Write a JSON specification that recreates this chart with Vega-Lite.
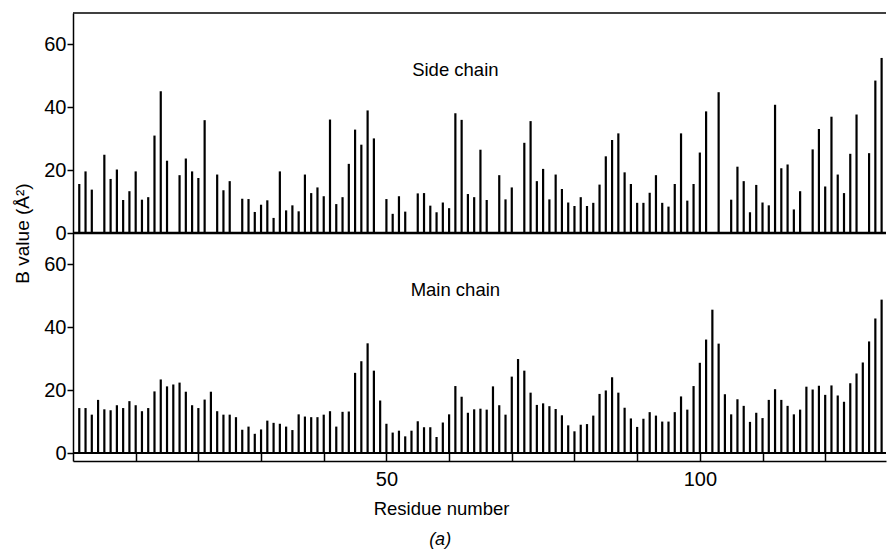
{
  "$schema": "https://vega.github.io/schema/vega-lite/v6.json",
  "background": "white",
  "padding": {"left": 13, "top": 12, "right": 0, "bottom": 4},
  "spacing": 0,
  "bounds": "flush",
  "config": {
    "font": "Liberation Sans",
    "view": {"stroke": null},
    "axis": {"domainColor": "black", "tickColor": "black", "labelColor": "black", "titleColor": "black", "labelFont": "Liberation Sans", "titleFont": "Liberation Sans", "grid": false, "labelFlush": false}
  },
  "title": {"text": "(a)", "orient": "bottom", "fontSize": 18, "fontWeight": "normal", "fontStyle": "italic", "offset": 13, "anchor": "middle", "dx": -10, "color": "black", "font": "Liberation Sans"},
  "datasets": {
    "side": [
      {"residue": 1, "b": 15.6}, {"residue": 2, "b": 19.6}, {"residue": 3, "b": 13.8}, {"residue": 5, "b": 24.9}, {"residue": 6, "b": 17.2}, {"residue": 7, "b": 20.2}, {"residue": 8, "b": 10.5}, {"residue": 9, "b": 13.3}, {"residue": 10, "b": 19.6},
      {"residue": 11, "b": 10.6}, {"residue": 12, "b": 11.4}, {"residue": 13, "b": 31.0}, {"residue": 14, "b": 45.1}, {"residue": 15, "b": 23.0}, {"residue": 17, "b": 18.4}, {"residue": 18, "b": 23.7}, {"residue": 19, "b": 19.6}, {"residue": 20, "b": 17.5},
      {"residue": 21, "b": 35.9}, {"residue": 23, "b": 18.6}, {"residue": 24, "b": 13.6}, {"residue": 25, "b": 16.5}, {"residue": 27, "b": 10.9}, {"residue": 28, "b": 10.8}, {"residue": 29, "b": 6.7}, {"residue": 30, "b": 9.0},
      {"residue": 31, "b": 10.4}, {"residue": 32, "b": 4.8}, {"residue": 33, "b": 19.6}, {"residue": 34, "b": 7.2}, {"residue": 35, "b": 8.8}, {"residue": 36, "b": 6.9}, {"residue": 37, "b": 18.6}, {"residue": 38, "b": 12.7}, {"residue": 39, "b": 14.5}, {"residue": 40, "b": 11.7},
      {"residue": 41, "b": 36.1}, {"residue": 42, "b": 9.2}, {"residue": 43, "b": 11.4}, {"residue": 44, "b": 22.0}, {"residue": 45, "b": 32.9}, {"residue": 46, "b": 28.1}, {"residue": 47, "b": 39.0}, {"residue": 48, "b": 30.1}, {"residue": 50, "b": 10.8},
      {"residue": 51, "b": 6.1}, {"residue": 52, "b": 11.7}, {"residue": 53, "b": 6.8}, {"residue": 55, "b": 12.6}, {"residue": 56, "b": 12.7}, {"residue": 57, "b": 8.7}, {"residue": 58, "b": 6.6}, {"residue": 59, "b": 9.7}, {"residue": 60, "b": 7.9},
      {"residue": 61, "b": 38.1}, {"residue": 62, "b": 36.0}, {"residue": 63, "b": 12.4}, {"residue": 64, "b": 11.4}, {"residue": 65, "b": 26.5}, {"residue": 66, "b": 10.5}, {"residue": 68, "b": 18.4}, {"residue": 69, "b": 10.7}, {"residue": 70, "b": 14.5},
      {"residue": 72, "b": 28.7}, {"residue": 73, "b": 35.6}, {"residue": 74, "b": 16.5}, {"residue": 75, "b": 20.4}, {"residue": 76, "b": 10.7}, {"residue": 77, "b": 18.6}, {"residue": 78, "b": 14.0}, {"residue": 79, "b": 9.7}, {"residue": 80, "b": 8.6},
      {"residue": 81, "b": 11.4}, {"residue": 82, "b": 8.6}, {"residue": 83, "b": 9.6}, {"residue": 84, "b": 15.4}, {"residue": 85, "b": 24.4}, {"residue": 86, "b": 29.6}, {"residue": 87, "b": 31.7}, {"residue": 88, "b": 19.3}, {"residue": 89, "b": 15.6}, {"residue": 90, "b": 9.6},
      {"residue": 91, "b": 9.6}, {"residue": 92, "b": 12.8}, {"residue": 93, "b": 18.4}, {"residue": 94, "b": 9.6}, {"residue": 95, "b": 8.4}, {"residue": 96, "b": 15.6}, {"residue": 97, "b": 31.7}, {"residue": 98, "b": 10.3}, {"residue": 99, "b": 15.6}, {"residue": 100, "b": 25.6},
      {"residue": 101, "b": 38.7}, {"residue": 103, "b": 44.8}, {"residue": 105, "b": 10.6}, {"residue": 106, "b": 21.1}, {"residue": 107, "b": 16.5}, {"residue": 108, "b": 6.6}, {"residue": 109, "b": 15.3}, {"residue": 110, "b": 9.7},
      {"residue": 111, "b": 8.8}, {"residue": 112, "b": 40.8}, {"residue": 113, "b": 20.6}, {"residue": 114, "b": 21.8}, {"residue": 115, "b": 7.5}, {"residue": 116, "b": 13.3}, {"residue": 118, "b": 26.6}, {"residue": 119, "b": 33.1}, {"residue": 120, "b": 14.8},
      {"residue": 121, "b": 37.0}, {"residue": 122, "b": 18.6}, {"residue": 123, "b": 12.7}, {"residue": 124, "b": 25.2}, {"residue": 125, "b": 37.7}, {"residue": 127, "b": 25.4}, {"residue": 128, "b": 48.5}, {"residue": 129, "b": 55.7}
    ],
    "main": [
      {"residue": 1, "b": 14.3}, {"residue": 2, "b": 14.3}, {"residue": 3, "b": 12.2}, {"residue": 4, "b": 16.9}, {"residue": 5, "b": 13.9}, {"residue": 6, "b": 13.6}, {"residue": 7, "b": 15.2}, {"residue": 8, "b": 14.3}, {"residue": 9, "b": 16.5}, {"residue": 10, "b": 15.2},
      {"residue": 11, "b": 13.3}, {"residue": 12, "b": 14.3}, {"residue": 13, "b": 19.6}, {"residue": 14, "b": 23.4}, {"residue": 15, "b": 21.2}, {"residue": 16, "b": 21.8}, {"residue": 17, "b": 22.4}, {"residue": 18, "b": 19.5}, {"residue": 19, "b": 15.2}, {"residue": 20, "b": 14.3},
      {"residue": 21, "b": 17.0}, {"residue": 22, "b": 19.5}, {"residue": 23, "b": 13.3}, {"residue": 24, "b": 12.2}, {"residue": 25, "b": 12.2}, {"residue": 26, "b": 11.4}, {"residue": 27, "b": 7.4}, {"residue": 28, "b": 8.4}, {"residue": 29, "b": 6.1}, {"residue": 30, "b": 7.5},
      {"residue": 31, "b": 10.3}, {"residue": 32, "b": 9.6}, {"residue": 33, "b": 9.3}, {"residue": 34, "b": 8.4}, {"residue": 35, "b": 7.3}, {"residue": 36, "b": 12.3}, {"residue": 37, "b": 11.6}, {"residue": 38, "b": 11.4}, {"residue": 39, "b": 11.4}, {"residue": 40, "b": 12.2},
      {"residue": 41, "b": 13.3}, {"residue": 42, "b": 8.4}, {"residue": 43, "b": 13.1}, {"residue": 44, "b": 13.2}, {"residue": 45, "b": 25.5}, {"residue": 46, "b": 29.2}, {"residue": 47, "b": 34.9}, {"residue": 48, "b": 26.2}, {"residue": 49, "b": 16.7}, {"residue": 50, "b": 9.3},
      {"residue": 51, "b": 6.5}, {"residue": 52, "b": 7.1}, {"residue": 53, "b": 5.3}, {"residue": 54, "b": 7.1}, {"residue": 55, "b": 10.1}, {"residue": 56, "b": 8.2}, {"residue": 57, "b": 8.2}, {"residue": 58, "b": 5.1}, {"residue": 59, "b": 9.7}, {"residue": 60, "b": 12.3},
      {"residue": 61, "b": 21.3}, {"residue": 62, "b": 17.9}, {"residue": 63, "b": 12.8}, {"residue": 64, "b": 13.9}, {"residue": 65, "b": 14.1}, {"residue": 66, "b": 13.8}, {"residue": 67, "b": 21.2}, {"residue": 68, "b": 15.2}, {"residue": 69, "b": 12.2}, {"residue": 70, "b": 24.3},
      {"residue": 71, "b": 29.9}, {"residue": 72, "b": 26.2}, {"residue": 73, "b": 19.2}, {"residue": 74, "b": 15.3}, {"residue": 75, "b": 15.8}, {"residue": 76, "b": 14.9}, {"residue": 77, "b": 14.0}, {"residue": 78, "b": 12.0}, {"residue": 79, "b": 8.8}, {"residue": 80, "b": 6.9},
      {"residue": 81, "b": 9.0}, {"residue": 82, "b": 9.2}, {"residue": 83, "b": 11.9}, {"residue": 84, "b": 18.8}, {"residue": 85, "b": 19.9}, {"residue": 86, "b": 24.1}, {"residue": 87, "b": 19.2}, {"residue": 88, "b": 14.4}, {"residue": 89, "b": 11.0}, {"residue": 90, "b": 8.3},
      {"residue": 91, "b": 10.9}, {"residue": 92, "b": 13.0}, {"residue": 93, "b": 11.9}, {"residue": 94, "b": 10.0}, {"residue": 95, "b": 10.0}, {"residue": 96, "b": 13.0}, {"residue": 97, "b": 18.0}, {"residue": 98, "b": 13.8}, {"residue": 99, "b": 21.3}, {"residue": 100, "b": 28.7},
      {"residue": 101, "b": 36.1}, {"residue": 102, "b": 45.6}, {"residue": 103, "b": 34.8}, {"residue": 104, "b": 18.7}, {"residue": 105, "b": 12.3}, {"residue": 106, "b": 17.1}, {"residue": 107, "b": 15.0}, {"residue": 108, "b": 9.9}, {"residue": 109, "b": 12.8}, {"residue": 110, "b": 11.1},
      {"residue": 111, "b": 16.9}, {"residue": 112, "b": 20.3}, {"residue": 113, "b": 16.9}, {"residue": 114, "b": 15.0}, {"residue": 115, "b": 12.3}, {"residue": 116, "b": 13.8}, {"residue": 117, "b": 21.1}, {"residue": 118, "b": 20.2}, {"residue": 119, "b": 21.4}, {"residue": 120, "b": 18.5},
      {"residue": 121, "b": 21.5}, {"residue": 122, "b": 18.3}, {"residue": 123, "b": 16.3}, {"residue": 124, "b": 22.2}, {"residue": 125, "b": 25.3}, {"residue": 126, "b": 28.8}, {"residue": 127, "b": 35.5}, {"residue": 128, "b": 42.8}, {"residue": 129, "b": 48.8}
    ],
    "one": [{}]
  },
  "vconcat": [
    {
      "width": 813,
      "height": 220,
      "layer": [
        {
          "data": {"name": "side"},
          "mark": {"type": "rule", "strokeWidth": 2.2, "color": "black"},
          "encoding": {
            "x": {"field": "residue", "type": "quantitative", "scale": {"domain": [0, 129.7], "nice": false, "zero": false}, "axis": null},
            "y": {"field": "b", "type": "quantitative", "scale": {"domain": [0, 70], "nice": false},
              "axis": {"values": [0, 10, 20, 30, 40, 50, 60], "labelExpr": "datum.value % 20 == 0 ? datum.label : ''", "tickSize": 6, "tickWidth": 1.5, "domainWidth": 1.5, "labelPadding": 1, "labelFontSize": 20,
                "title": "B value (Å²)", "titleFontSize": 19, "titleFontWeight": "normal", "titleX": -51, "titleY": 220, "titleAlign": "center", "titleAngle": -90, "titleBaseline": "middle"}},
            "y2": {"datum": 0}
          }
        },
        {
          "data": {"name": "one"},
          "mark": {"type": "rule", "strokeWidth": 2.5, "color": "black"},
          "encoding": {"y": {"datum": 0}}
        },
        {
          "data": {"name": "one"},
          "mark": {"type": "rule", "strokeWidth": 1.5, "color": "black"},
          "encoding": {"y": {"datum": 70}}
        },
        {
          "data": {"name": "one"},
          "mark": {"type": "text", "fontSize": 18.5, "color": "black", "font": "Liberation Sans", "align": "center", "baseline": "middle"},
          "encoding": {"x": {"datum": 61}, "y": {"datum": 52}, "text": {"value": "Side chain"}}
        }
      ]
    },
    {
      "width": 813,
      "height": 220,
      "layer": [
        {
          "data": {"name": "main"},
          "mark": {"type": "rule", "strokeWidth": 2.2, "color": "black"},
          "encoding": {
            "x": {"field": "residue", "type": "quantitative", "scale": {"domain": [0, 129.7], "nice": false, "zero": false},
              "axis": {"values": [0, 10, 20, 30, 40, 50, 60, 70, 80, 90, 100, 110, 120], "labelExpr": "datum.value == 50 || datum.value == 100 ? datum.label : ''", "offset": 8, "tickSize": -8, "tickWidth": 1.5, "domainWidth": 1.5, "labelPadding": 16, "labelFontSize": 20,
                "title": "Residue number", "titleFontSize": 18.5, "titleFontWeight": "normal", "titlePadding": 10, "titleX": 368}},
            "y": {"field": "b", "type": "quantitative", "scale": {"domain": [0, 70], "nice": false},
              "axis": {"values": [0, 10, 20, 30, 40, 50, 60], "labelExpr": "datum.value % 20 == 0 ? datum.label : ''", "tickSize": 6, "tickWidth": 1.5, "domainWidth": 1.5, "labelPadding": 1, "labelFontSize": 20, "title": null}},
            "y2": {"datum": 0}
          }
        },
        {
          "data": {"name": "one"},
          "mark": {"type": "rule", "strokeWidth": 2, "color": "black"},
          "encoding": {"y": {"datum": 0}}
        },
        {
          "data": {"name": "one"},
          "mark": {"type": "text", "fontSize": 18.5, "color": "black", "font": "Liberation Sans", "align": "center", "baseline": "middle"},
          "encoding": {"x": {"datum": 61}, "y": {"datum": 52}, "text": {"value": "Main chain"}}
        }
      ]
    }
  ]
}
